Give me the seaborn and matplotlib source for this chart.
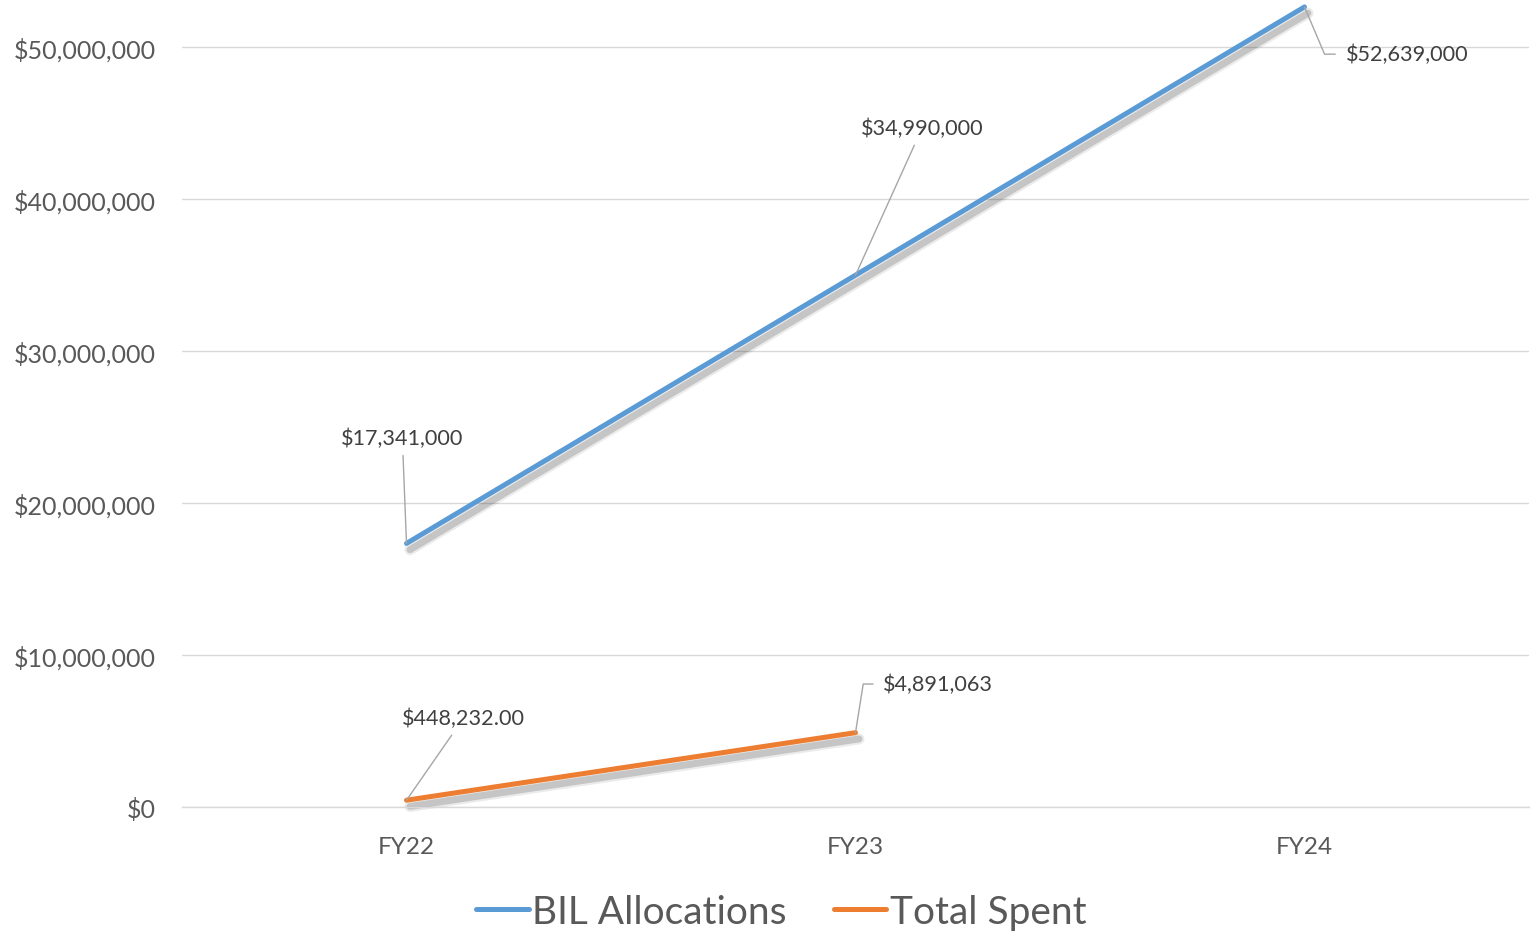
import numpy as np
import pandas as pd
import seaborn as sns
import matplotlib.pyplot as plt
import matplotlib.patheffects as pe
from matplotlib.lines import Line2D
from matplotlib.ticker import FuncFormatter

years = ["FY22", "FY23", "FY24"]
bil_allocations = [17341000, 34990000, 52639000]
total_spent = [448232, 4891063, np.nan]
bil_labels = ["$17,341,000", "$34,990,000", "$52,639,000"]
spent_labels = ["$448,232.00", "$4,891,063"]
series_names = ["BIL Allocations", "Total Spent"]
colors = ["#5B9BD5", "#ED7D31"]

df = pd.DataFrame({
    "year": years * 2,
    "value": bil_allocations + total_spent,
    "series": [series_names[0]] * 3 + [series_names[1]] * 3,
})

sns.set_style("white")
plt.rcParams["font.family"] = ["Lato", "DejaVu Sans"]

fig = plt.figure(figsize=(15.32, 9.37), dpi=100)
ax = fig.add_axes([182 / 1532, 129 / 937, 1347 / 1532, 808 / 937])

sns.lineplot(data=df, x="year", y="value", hue="series", hue_order=series_names,
             palette=colors, linewidth=3.6, sort=False, legend=False, ax=ax)

# soft drop shadow like the Excel original
shadow = [pe.SimpleLineShadow(offset=(2.5, -4.5), shadow_color="black", alpha=0.08, linewidth=8),
          pe.SimpleLineShadow(offset=(2.5, -4.5), shadow_color="black", alpha=0.16, linewidth=5),
          pe.Normal()]
for ln in ax.lines:
    ln.set_path_effects(shadow)
    ln.set_solid_capstyle("round")
    ln.set_clip_on(False)

ax.set_xlim(-0.5, 2.5)
ax.set_ylim(0, 53.16e6)
ax.set_yticks([0, 10e6, 20e6, 30e6, 40e6, 50e6])
ax.yaxis.set_major_formatter(FuncFormatter(lambda v, p: f"${v:,.0f}"))
ax.grid(axis="y", color="#D9D9D9", linewidth=1)
ax.set_axisbelow(True)
for s in ax.spines.values():
    s.set_visible(False)
ax.spines["bottom"].set_visible(True)
ax.spines["bottom"].set_color("#D9D9D9")
ax.spines["bottom"].set_linewidth(1)
ax.tick_params(axis="y", length=0, pad=19, labelsize=18, labelcolor="#595959")
ax.tick_params(axis="x", length=0, pad=21, labelsize=17.5, labelcolor="#595959")
ax.set_xlabel("")
ax.set_ylabel("")

lead = dict(arrowstyle="-", color="#A6A6A6", lw=1, shrinkA=3, shrinkB=0)
txt = dict(textcoords="offset points", fontsize=15.6, color="#404040", va="center")

# BIL Allocations labels
ax.annotate(bil_labels[0], (0, bil_allocations[0]), xytext=(-3, 76), ha="center",
            arrowprops=lead, **txt)
ax.annotate(bil_labels[1], (1, bil_allocations[1]), xytext=(48, 106), ha="center",
            arrowprops=lead, **txt)
ax.annotate(bil_labels[2], (2, bil_allocations[2]), xytext=(29.5, -34), ha="left",
            arrowprops=dict(lead, relpos=(0, 0.5), shrinkA=5,
                            connectionstyle="angle,angleA=0,angleB=-67,rad=0"), **txt)

# Total Spent labels
ax.annotate(spent_labels[0], (0, total_spent[0]), xytext=(41, 59), ha="center",
            arrowprops=lead, **txt)
ax.annotate(spent_labels[1], (1, total_spent[1]), xytext=(20, 35), ha="left",
            arrowprops=dict(lead, relpos=(0, 0.5), shrinkA=5,
                            connectionstyle="angle,angleA=0,angleB=81,rad=0"), **txt)

handles = [Line2D([], [], color=c, lw=3.6, solid_capstyle="round") for c in colors]
fig.legend(handles, series_names, loc="center", bbox_to_anchor=(0.51, 0.026), ncol=2,
           frameon=False, fontsize=28, labelcolor="#595959", handlelength=1.35,
           handletextpad=0.1, columnspacing=1.2)

fig.savefig("out.png", dpi=100)
